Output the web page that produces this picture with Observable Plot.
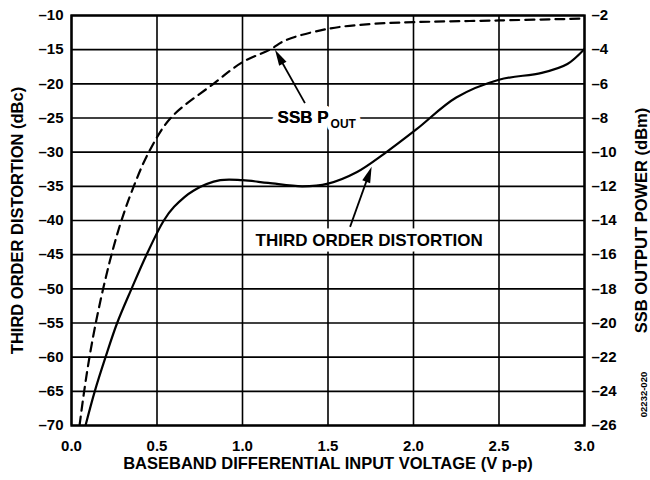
<!DOCTYPE html>
<html>
<head>
<meta charset="utf-8">
<script src="https://cdn.jsdelivr.net/npm/d3@7"></script>
<script src="https://cdn.jsdelivr.net/npm/@observablehq/plot@0.6"></script>
<style>
  html, body { margin: 0; padding: 0; background: #fff; }
</style>
</head>
<body>
<div id="chart"></div>
<script>
// ---- data ----
const xTicks = [0, 0.5, 1.0, 1.5, 2.0, 2.5, 3.0];
const leftTicks = [-10, -15, -20, -25, -30, -35, -40, -45, -50, -55, -60, -65, -70];
const rightTicks = [-2, -4, -6, -8, -10, -12, -14, -16, -18, -20, -22, -24, -26];

// Third order distortion (dBc, left axis)
const distV = [0.082, 0.136, 0.199, 0.267, 0.351, 0.439, 0.54, 0.6, 0.715, 0.87, 1.0, 1.15, 1.35, 1.5, 1.67, 1.83, 2.02, 2.25, 2.5, 2.75, 2.9, 3.0];
const distDbc = [-70, -65, -60, -55, -50, -45, -40, -38.0, -35.6, -34.1, -34.1, -34.5, -35.0, -34.6, -32.9, -30.2, -26.6, -22.0, -19.4, -18.4, -17.1, -14.9];

// SSB output power (dBm, right axis)
const ssbV = [0.047, 0.074, 0.105, 0.142, 0.185, 0.234, 0.292, 0.364, 0.452, 0.58, 0.83, 1.0, 1.16, 1.25, 1.5, 1.75, 2.0, 2.5, 3.0];
const ssbDbm = [-26, -24, -22, -20, -18, -16, -14, -12, -10, -8, -6, -4.73, -4, -3.46, -2.78, -2.5, -2.39, -2.29, -2.18];

// annotations (data coordinates, left axis units)
const annSsb = {x: 1.205, y: -25, x1: 1.368, y1: -22.9, x2: 1.193, y2: -15.1};
const annDist = {x: 1.076, y: -42.9, x1: 1.632, y1: -41.0, x2: 1.758, y2: -32.2};
const arrows = [annSsb, annDist];

// right axis (dBm) <-> left axis (dBc) mapping
const toLeft = r => (r + 2) / 0.4 - 10;
const toRight = l => -2 + (l + 10) * 0.4;
const fmt = d => d < 0 ? "\u2013" + Math.abs(d) : String(d);

const dist = distV.map((v, i) => ({v, y: distDbc[i]}));
const ssb = ssbV.map((v, i) => ({v, y: toLeft(ssbDbm[i])}));

const font = "'Liberation Sans', Arial, Helvetica, sans-serif";

// arrow with a filled triangular head, positioned through the plot's scales
function arrowMark(index, scales) {
  const g = d3.create("svg:g");
  for (const a of arrows) {
    const x1 = scales.x(a.x1), y1 = scales.y(a.y1);
    const x2 = scales.x(a.x2), y2 = scales.y(a.y2);
    const dx = x2 - x1, dy = y2 - y1, len = Math.hypot(dx, dy);
    const ux = dx / len, uy = dy / len;
    const hl = 16, hw = 4.2;
    const bx = x2 - ux * hl, by = y2 - uy * hl;
    g.append("line").attr("x1", x1).attr("y1", y1).attr("x2", bx + ux * 2).attr("y2", by + uy * 2)
      .attr("stroke", "#000").attr("stroke-width", 1.8);
    g.append("polygon")
      .attr("points", [[x2, y2], [bx - uy * hw, by + ux * hw], [bx + uy * hw, by - ux * hw]].map(p => p.join(",")).join(" "))
      .attr("fill", "#000");
  }
  return g.node();
}

const chart = Plot.plot({
  width: 650,
  height: 480,
  marginLeft: 71,
  marginRight: 66,
  marginTop: 15,
  marginBottom: 55,
  style: {fontFamily: font, fontWeight: "bold", fontSize: "15px", color: "#000", background: "#fff"},
  x: {domain: [0, 3], ticks: xTicks},
  y: {domain: [-70, -10], ticks: leftTicks},
  marks: [
    Plot.gridX(xTicks, {stroke: "#000", strokeOpacity: 1, strokeWidth: 1.6}),
    Plot.gridY(leftTicks, {stroke: "#000", strokeOpacity: 1, strokeWidth: 1.6}),
    Plot.axisX(xTicks, {tickSize: 0, tickPadding: 15, tickFormat: d3.format(".1f"), label: null, fontSize: 15}),
    Plot.axisY(leftTicks, {anchor: "left", tickSize: 0, tickPadding: 8, tickFormat: fmt, label: null, fontSize: 15}),
    Plot.axisY(rightTicks.map(toLeft), {anchor: "right", tickSize: 0, tickPadding: 7, tickFormat: d => fmt(Math.round(toRight(d))), label: null, fontSize: 15}),
    Plot.line(ssb, {x: "v", y: "y", curve: "catmull-rom", stroke: "#000", strokeWidth: 2.2, strokeDasharray: "9,6", clip: true}),
    Plot.line(dist, {x: "v", y: "y", curve: "catmull-rom", stroke: "#000", strokeWidth: 2.2, clip: true}),
    // annotation labels with white halo to break the grid
    Plot.text([annSsb], {x: "x", y: "y", text: () => "SSB P", textAnchor: "start", fontSize: 17, stroke: "#fff", strokeWidth: 11, fill: "#000"}),
    Plot.text([annSsb], {x: "x", y: "y", text: () => "OUT", textAnchor: "start", dx: 53, dy: 6, fontSize: 12, stroke: "#fff", strokeWidth: 9, fill: "#000"}),
    Plot.text([annSsb], {x: "x", y: "y", text: () => "SSB P", textAnchor: "start", fontSize: 17, fill: "#000"}),
    Plot.text([annDist], {x: "x", y: "y", text: () => "THIRD ORDER DISTORTION", textAnchor: "start", fontSize: 17, stroke: "#fff", strokeWidth: 11, fill: "#000"}),
    arrowMark,
    Plot.frame({stroke: "#000", strokeWidth: 2.4}),
    // axis titles
    Plot.text(["THIRD ORDER DISTORTION (dBc)"], {frameAnchor: "left", textAnchor: "middle", lineAnchor: "middle", dx: -53.5, rotate: -90, fontSize: 16.5, fill: "#000"}),
    Plot.text(["SSB OUTPUT POWER (dBm)"], {frameAnchor: "right", textAnchor: "middle", lineAnchor: "middle", dx: 57, rotate: -90, fontSize: 16.5, fill: "#000"}),
    Plot.text(["BASEBAND DIFFERENTIAL INPUT VOLTAGE (V p-p)"], {frameAnchor: "bottom", textAnchor: "middle", lineAnchor: "middle", dy: 38.5, fontSize: 16.5, fill: "#000"}),
    Plot.text(["02232-020"], {frameAnchor: "bottom-right", textAnchor: "middle", lineAnchor: "middle", dx: 59, dy: -31, rotate: -90, fontSize: 9.5, fill: "#000"})
  ]
});
document.getElementById("chart").appendChild(chart);
</script>
</body>
</html>
